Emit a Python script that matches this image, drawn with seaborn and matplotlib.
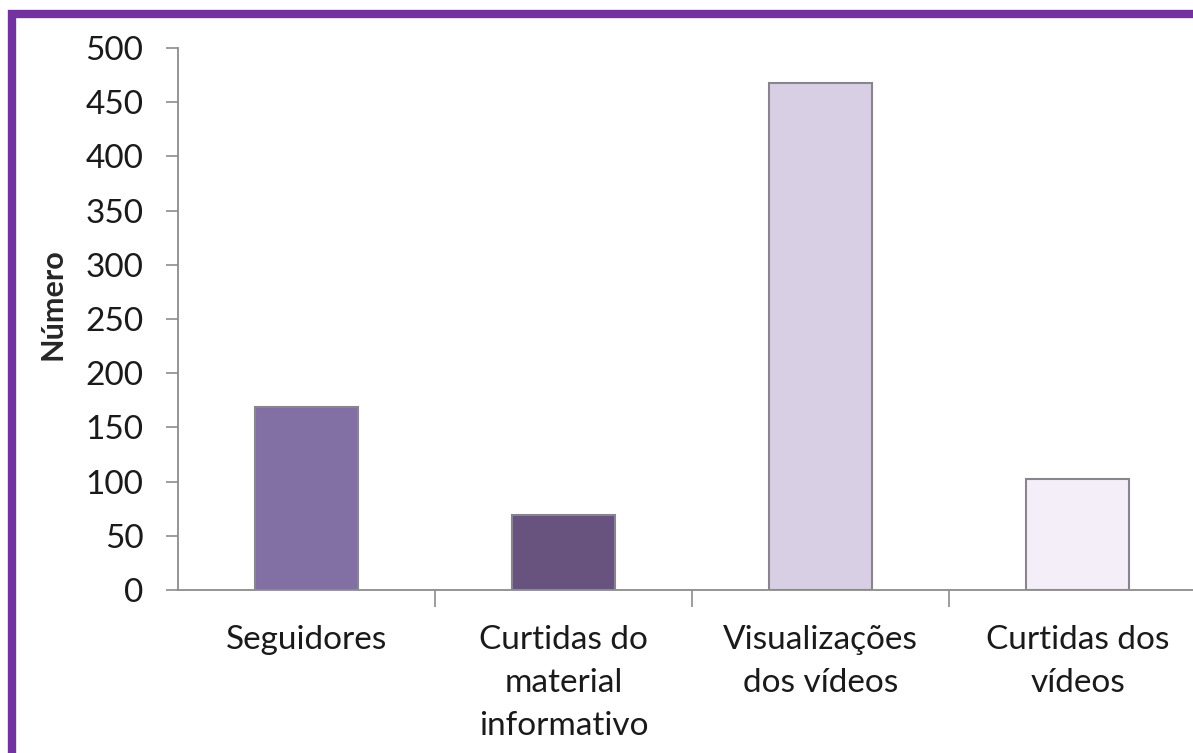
import numpy as np
import pandas as pd
import seaborn as sns
from matplotlib import pyplot as plt
from matplotlib.patches import Rectangle

categorias = ['Seguidores', 'Curtidas do\nmaterial\ninformativo',
              'Visualizações\ndos vídeos', 'Curtidas dos\nvídeos']
valores = [169, 69, 468, 102]
cores = ['#8066AC', '#674C84', '#D9CCE7', '#F3EDF8']
yticks = [0, 50, 100, 150, 200, 250, 300, 350, 400, 450, 500]

df = pd.DataFrame({'categoria': categorias, 'valor': valores})

sns.set_style('white')
plt.rcParams['font.family'] = ['Lato', 'DejaVu Sans']

fig = plt.figure(figsize=(11.93, 7.53), dpi=100)
ax = fig.add_axes([178 / 1193, 163 / 753, 1028 / 1193, 542 / 753])

sns.barplot(data=df, x='categoria', y='valor', hue='categoria', palette=cores,
            legend=False, width=0.4, edgecolor='#8A8490', linewidth=1.5, ax=ax)

ax.set_xlim(-0.5, 3.5)
ax.set_ylim(0, 500)
ax.set_yticks(yticks)
ax.set_xlabel('')
ax.set_ylabel('Número', fontsize=22, fontweight='bold')
ax.yaxis.set_label_coords(-0.108, 0.528)

for s in ['top', 'right']:
    ax.spines[s].set_visible(False)
for s in ['left', 'bottom']:
    ax.spines[s].set_color('#8C8C8C')
    ax.spines[s].set_linewidth(1.3)

ax.tick_params(axis='y', which='major', direction='out', length=9, width=1.2,
               color='#8C8C8C', labelsize=24, pad=16, left=True)
ax.set_xticks([0.5, 1.5, 2.5], minor=True)
ax.tick_params(axis='x', which='minor', direction='out', length=12, width=1.2,
               color='#8C8C8C', bottom=True)
ax.tick_params(axis='x', which='major', length=0, labelsize=24, pad=25)
for lab in ax.get_xticklabels():
    lab.set_linespacing(1.55)
    lab.set_verticalalignment('top')
for lab in ax.get_yticklabels() + ax.get_xticklabels():
    lab.set_color('#1A1A1A')

# moldura roxa
fig.patches.append(Rectangle((12 / 1193, -0.2), 1.5, 1.2 - 14 / 753,
                             transform=fig.transFigure, fill=False,
                             edgecolor='#7232A0', linewidth=6, zorder=10))

plt.savefig('out.png', dpi=100)
